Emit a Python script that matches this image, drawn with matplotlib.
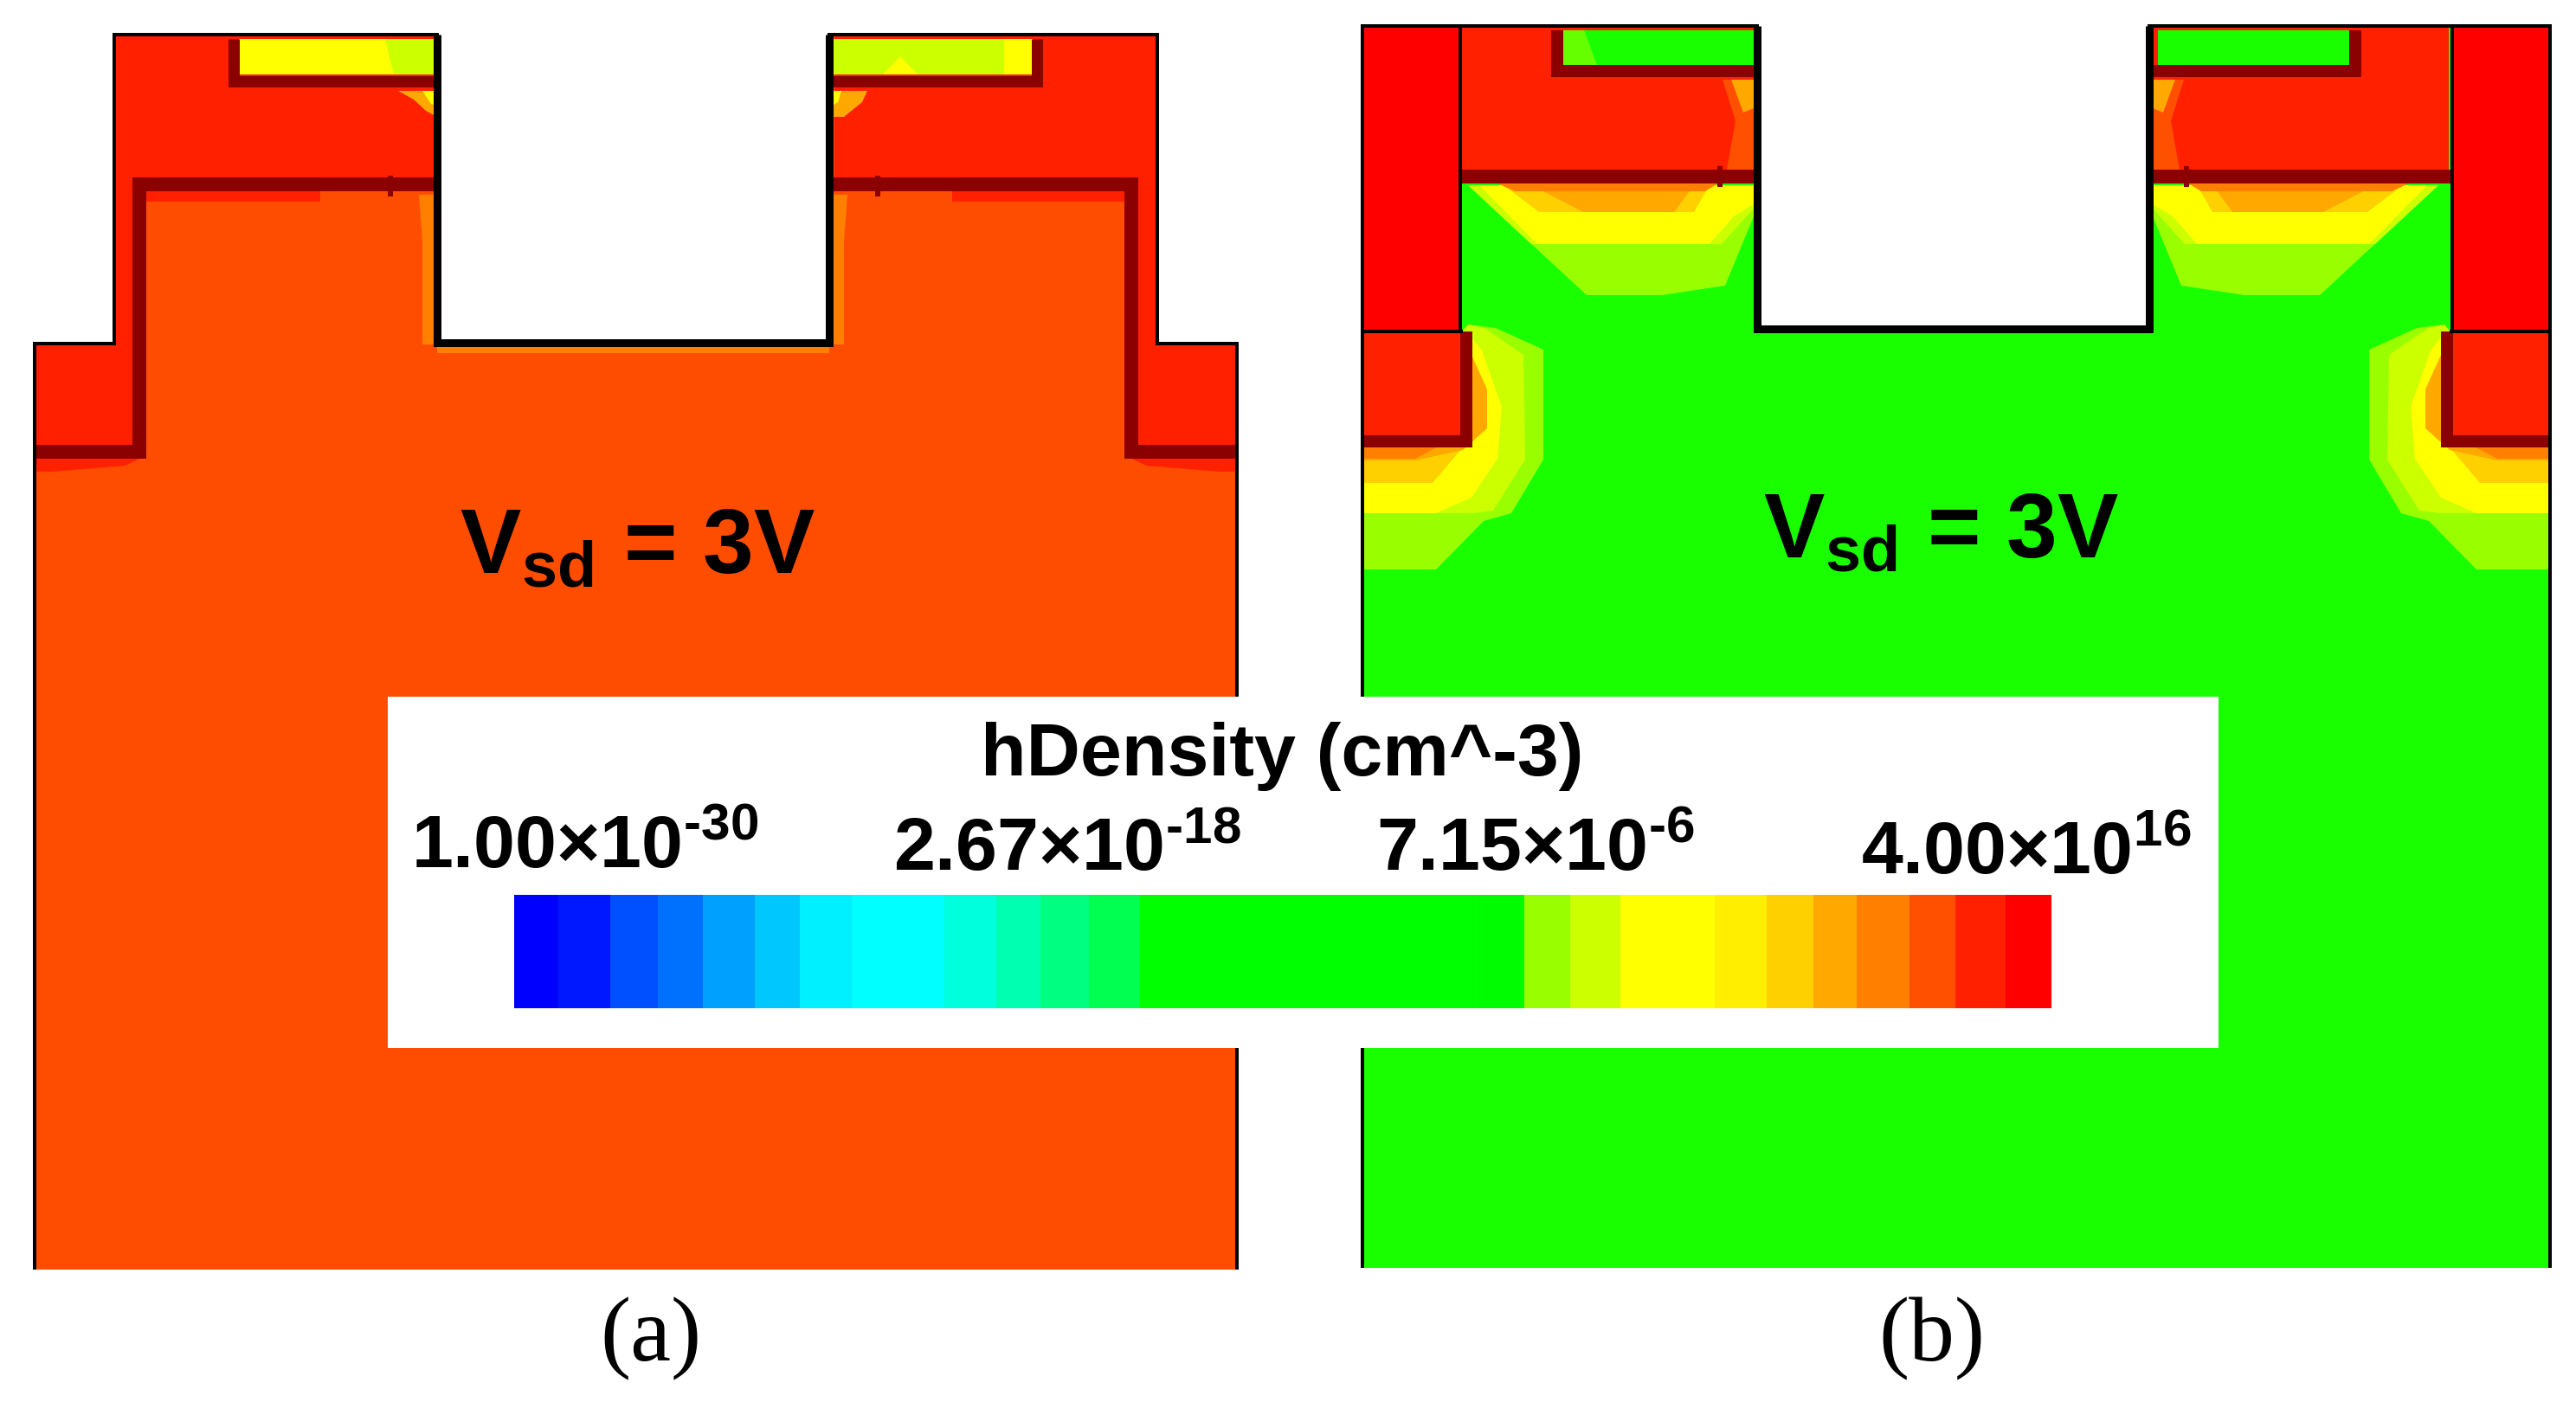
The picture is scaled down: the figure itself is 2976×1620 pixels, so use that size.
#!/usr/bin/env python
# hole density maps for the two devices at Vsd = 3V, shared colour legend
import matplotlib
matplotlib.use('Agg')
import matplotlib.pyplot as plt
from matplotlib.colors import ListedColormap

plt.rcParams['font.family'] = ['Liberation Sans', 'DejaVu Sans']
plt.rcParams['mathtext.fontset'] = 'custom'
plt.rcParams['mathtext.rm'] = 'Liberation Sans:bold'
plt.rcParams['mathtext.default'] = 'regular'

DARK = '#8B0000'
RED = '#FF2000'
ORANGE = '#FF4D00'
GREEN = '#19FF00'
YELLOW = '#FFFF00'
LIME = '#CCFF00'
LGREEN = '#99FF00'
AMBER = '#FFD000'
DORANGE = '#FFA800'
SOFT = '#FF8000'

# outlines (a)
a_outline_x = [40, 40, 132, 132, 505, 505, 958, 958, 1337, 1337, 1429, 1429]
a_outline_y = [1467, 397, 397, 40, 40, 396, 396, 40, 40, 397, 397, 1467]
a_red_x = [40, 132, 132, 505, 505, 161, 161, 145, 60, 40]
a_red_y = [397, 397, 40, 40, 213, 213, 530, 538, 545, 545]
a_wall_x = [490, 505, 505, 488, 488, 484]
a_wall_y = [225, 225, 398, 398, 280, 225]
a_gate_x = [276, 505, 505, 276]
a_gate_y = [45, 45, 86, 86]

# outlines (b)
b_outline_x = [1574, 1574, 2030, 2030, 2483, 2483, 2946, 2946]
b_outline_y = [1465, 30, 30, 380, 380, 30, 30, 1465]
b_red_x = [1687, 2030, 2030, 1687]
b_red_y = [30, 30, 204, 204]
b_gate_x = [1806, 2028, 2028, 1806]
b_gate_y = [35, 35, 75, 75]

# contour bands (b), under the gate, left side
top_bands = [
    (LGREEN, [1696, 1833, 1920, 1993, 2026, 2026], [214, 341, 341, 330, 250, 214]),
    (LIME, [1696, 1769, 1989, 2026, 2026], [214, 282, 282, 241, 214]),
    (YELLOW, [1709, 1776, 1975, 2003, 2026, 2026], [214, 282, 282, 250, 236, 214]),
    (AMBER, [1737, 1778, 1957, 1975], [214, 245, 245, 214]),
    (DORANGE, [1769, 1829, 1934, 1957], [214, 245, 245, 214]),
    (SOFT, [1730, 1750, 1970, 1985], [212, 221, 221, 212]),
]
# contour bands (b), by the source corner, left side
low_bands = [
    (LGREEN, [1696, 1728, 1783, 1783, 1746, 1714, 1659, 1574, 1574, 1696],
     [375, 379, 404, 531, 593, 602, 658, 658, 517, 517]),
    (LIME, [1696, 1715, 1760, 1762, 1725, 1700, 1574, 1574], [375, 379, 410, 531, 590, 593, 593, 517]),
    (YELLOW, [1696, 1712, 1735, 1730, 1700, 1659, 1574, 1574], [385, 405, 470, 530, 575, 593, 593, 517]),
    (AMBER, [1574, 1690, 1655, 1574], [517, 517, 558, 558]),
    (DORANGE, [1574, 1700, 1718, 1718, 1690, 1635, 1574], [517, 410, 450, 495, 520, 532, 532]),
    (SOFT, [1574, 1660, 1635, 1574], [517, 517, 530, 530]),
]
b_streak_x = [1990, 2026, 2026, 1995, 2005]
b_streak_y = [92, 92, 196, 196, 140]
b_streak2_x = [2000, 2026, 2026, 2014]
b_streak2_y = [92, 92, 125, 130]

# colour legend
bar_edges = [594, 645, 705, 760, 812, 872, 924, 984, 1091, 1151, 1202, 1258, 1317,
             1707, 1761, 1814, 1872, 1981, 2041, 2095, 2145, 2206, 2259, 2317, 2370]
bar_colors = ['#0000FF', '#0018FF', '#0050FF', '#0070FF', '#00A0FF', '#00C8FF', '#00F0FF',
              '#00FFFF', '#00FFDD', '#00FFB0', '#00FF80', '#00FF50', '#00FF00', '#00FC00',
              '#99FF00', '#CCFF00', '#FFFF00', '#FFEE00', '#FFD000', '#FFA800', '#FF8000',
              '#FF5000', '#FF2000', '#FF0000']
bar_labels = [r'1.00×10$^{\mathdefault{\text{-30}}}$', r'2.67×10$^{\mathdefault{\text{-18}}}$',
              r'7.15×10$^{\mathdefault{\text{-6}}}$', r'4.00×10$^{\mathdefault{16}}$']
bar_label_x = [475, 1032, 1590, 2150]
bar_label_y = [1003, 1006, 1006, 1010]


def mirror(xs, c):
    return [2 * c - x for x in xs]


def px(width):
    # figure is 100 dpi, line widths are in points
    return width * 0.72


fig = plt.figure(figsize=(29.76, 16.2), dpi=100)
ax = fig.add_axes([0, 0, 1, 1])
ax.set_xlim(0, 2976)
ax.set_ylim(1620, 0)
ax.axis('off')

# ---- panel (a)
ax.fill(a_outline_x, a_outline_y, color=ORANGE, lw=0)
ax.fill(a_wall_x, a_wall_y, color=SOFT, lw=0)
ax.fill(mirror(a_wall_x, 731.5), a_wall_y, color=SOFT, lw=0)
ax.fill([505, 958, 958, 505], [396, 396, 408, 408], color=SOFT, lw=0)
ax.fill(a_red_x, a_red_y, color=RED, lw=0)
ax.fill(mirror(a_red_x, 734.5), a_red_y, color=RED, lw=0)
ax.fill([161, 370, 370, 161], [213, 213, 233, 233], color=RED, lw=0)
ax.fill([1100, 1307, 1307, 1100], [213, 213, 233, 233], color=RED, lw=0)
# hot spots near the trench corner
ax.fill([460, 505, 505, 492, 478], [105, 105, 135, 128, 115], color=DORANGE, lw=0)
ax.fill([488, 505, 505, 498], [105, 105, 122, 120], color=YELLOW, lw=0)
ax.fill([962, 1002, 996, 975, 962], [105, 105, 118, 135, 135], color=DORANGE, lw=0)
ax.fill([962, 972, 968, 962], [105, 105, 118, 122], color=YELLOW, lw=0)
# gate regions
ax.fill(a_gate_x, a_gate_y, color=YELLOW, lw=0)
ax.fill([445, 505, 505, 455], [45, 45, 86, 86], color=LIME, lw=0)
ax.fill([962, 1193, 1193, 962], a_gate_y, color=LIME, lw=0)
ax.fill([1020, 1040, 1060, 1010], [86, 65, 86, 86], color=YELLOW, lw=0)
ax.fill([1160, 1193, 1193, 1160], [45, 45, 86, 86], color=YELLOW, lw=0)

line_kw = dict(solid_capstyle='butt', solid_joinstyle='miter')
ax.plot([40, 161, 161, 505], [522, 522, 213, 213], color=DARK, lw=px(16), **line_kw)
ax.plot([958, 1307, 1307, 1429], [213, 213, 522, 522], color=DARK, lw=px(16), **line_kw)
ax.plot([270, 270, 505], [45, 94, 94], color=DARK, lw=px(13), **line_kw)
ax.plot([1198, 1198, 958], [45, 94, 94], color=DARK, lw=px(13), **line_kw)
ax.plot([451, 451], [203, 227], color=DARK, lw=px(6), **line_kw)
ax.plot([1014, 1014], [203, 227], color=DARK, lw=px(6), **line_kw)

ax.plot(a_outline_x, a_outline_y, color='black', lw=px(4), **line_kw)
ax.plot([505, 505, 958, 958], [40, 396, 396, 40], color='black', lw=px(9), **line_kw)

# ---- panel (b)
ax.fill(b_outline_x, b_outline_y, color=GREEN, lw=0)
for col, xs, ys in top_bands:
    ax.fill(xs, ys, color=col, lw=0)
    ax.fill(mirror(xs, 2256.5), ys, color=col, lw=0)
for col, xs, ys in low_bands:
    ax.fill(xs, ys, color=col, lw=0)
    ax.fill(mirror(xs, 2260), ys, color=col, lw=0)

ax.fill(b_red_x, b_red_y, color=RED, lw=0)
ax.fill(mirror(b_red_x, 2258), b_red_y, color=RED, lw=0)
ax.fill(b_streak_x, b_streak_y, color='#FF5000', lw=0)
ax.fill(mirror(b_streak_x, 2256.5), b_streak_y, color='#FF5000', lw=0)
ax.fill(b_streak2_x, b_streak2_y, color=DORANGE, lw=0)
ax.fill(mirror(b_streak2_x, 2256.5), b_streak2_y, color=DORANGE, lw=0)
ax.fill(b_gate_x, b_gate_y, color=GREEN, lw=0)
ax.fill(mirror(b_gate_x, 2260.5), b_gate_y, color=GREEN, lw=0)
ax.fill([1806, 1830, 1845, 1806], [35, 35, 75, 75], color='#66FF00', lw=0)

# side blocks
ax.fill([1574, 1687, 1687, 1574], [30, 30, 383, 383], color='#FF0000', lw=0)
ax.fill([2833, 2946, 2946, 2833], [30, 30, 383, 383], color='#FF0000', lw=0)
ax.fill([1574, 1694, 1694, 1574], [383, 383, 510, 510], color=RED, lw=0)
ax.fill([2827, 2946, 2946, 2827], [383, 383, 510, 510], color=RED, lw=0)

ax.plot([1574, 1694, 1694], [510, 510, 383], color=DARK, lw=px(14), **line_kw)
ax.plot([2946, 2827, 2827], [510, 510, 383], color=DARK, lw=px(14), **line_kw)
ax.plot([1687, 2030], [204, 204], color=DARK, lw=px(16), **line_kw)
ax.plot([2483, 2833], [204, 204], color=DARK, lw=px(16), **line_kw)
ax.plot([1799, 1799, 2030], [35, 82, 82], color=DARK, lw=px(14), **line_kw)
ax.plot([2721, 2721, 2483], [35, 82, 82], color=DARK, lw=px(14), **line_kw)
ax.plot([1987, 1987], [192, 216], color=DARK, lw=px(6), **line_kw)
ax.plot([2526, 2526], [192, 216], color=DARK, lw=px(6), **line_kw)

ax.plot(b_outline_x, b_outline_y, color='black', lw=px(4), **line_kw)
ax.plot([2030, 2030, 2483, 2483], [30, 380, 380, 30], color='black', lw=px(9), **line_kw)
ax.plot([1687, 1687], [30, 383], color='black', lw=px(4), **line_kw)
ax.plot([2833, 2833], [30, 383], color='black', lw=px(4), **line_kw)
ax.plot([1574, 1690], [383, 383], color='black', lw=px(4), **line_kw)
ax.plot([2830, 2946], [383, 383], color='black', lw=px(4), **line_kw)

# ---- Vsd labels
vsd = r'V$_{\mathdefault{sd}}$ = 3V'
ax.text(531, 663, vsd, fontsize=76, fontweight='bold', color='black', ha='left', va='baseline')
ax.text(2037, 645, vsd, fontsize=76, fontweight='bold', color='black', ha='left', va='baseline')

# ---- legend box
ax.fill([448, 2563, 2563, 448], [805, 805, 1211, 1211], color='white', lw=0, zorder=5)
ax.pcolormesh(bar_edges, [1034, 1165], [list(range(len(bar_colors)))],
              cmap=ListedColormap(bar_colors), shading='flat', zorder=6)
ax.set_xlim(0, 2976)
ax.set_ylim(1620, 0)
ax.text(1481, 896, 'hDensity (cm^-3)', fontsize=62, fontweight='bold', color='black',
        ha='center', va='baseline', zorder=7)
for label, x, y in zip(bar_labels, bar_label_x, bar_label_y):
    ax.text(x, y, label, fontsize=62, fontweight='bold', color='black',
            ha='left', va='baseline', zorder=7)

# ---- panel letters
ax.text(752, 1572, '(a)', family='Liberation Serif', fontsize=76, ha='center', va='baseline')
ax.text(2232, 1572, '(b)', family='Liberation Serif', fontsize=76, ha='center', va='baseline')

fig.savefig('out.png', dpi=100)
